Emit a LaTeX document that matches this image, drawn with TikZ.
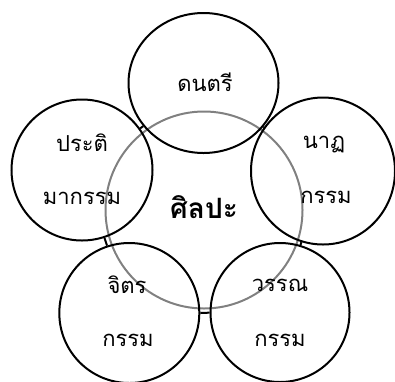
\documentclass[tikz,border=0pt]{standalone}
\usepackage{fontspec}
\newfontfamily\thaifont[Script=Thai]{Loma}
\usetikzlibrary{shapes.geometric}
\begin{document}
\begin{tikzpicture}[x=1pt,y=-1pt,
  outer/.style={draw=black,line width=2pt,ellipse,inner sep=0pt},
  link/.style={draw=black,line width=2pt},
  lbl/.style={font=\thaifont\fontsize{22}{22}\selectfont,inner sep=0pt},
  big/.style={font=\thaifont\bfseries\fontsize{28}{28}\selectfont,inner sep=0pt}]
\useasboundingbox (0,0) rectangle (395,381);
\draw[draw=gray,line width=2pt] (204,210) circle (98.5);
\node[outer,minimum width=150pt,minimum height=140pt] (t) at (203.5,83) {};
\node[outer,minimum width=141pt,minimum height=141pt] (l) at (82,170) {};
\node[outer,minimum width=144pt,minimum height=147pt] (r) at (323,171) {};
\node[outer,minimum width=140pt,minimum height=140pt] (bl) at (129.3,313) {};
\node[outer,minimum width=139pt,minimum height=139pt] (br) at (280,312.5) {};
\draw[link] (t) -- (l);
\draw[link] (t) -- (r);
\draw[link] (l) -- (bl);
\draw[link] (r) -- (br);
\draw[link] (bl) -- (br);
\node[big] (c) at (204,207) {ศิลปะ};
\node[lbl] (t1) at (205,82) {ดนตรี};
\node[lbl] (l1) at (82,143) {ประติ};
\node[lbl] (l2) at (82,198) {มากรรม};
\node[lbl] (r1) at (324,145) {นาฏ};
\node[lbl] (r2) at (326,197) {กรรม};
\node[lbl] (bl1) at (127,285) {จิตร};
\node[lbl] (bl2) at (128,340) {กรรม};
\node[lbl] (br1) at (280,285) {วรรณ};
\node[lbl] (br2) at (280,340) {กรรม};
\end{tikzpicture}
\end{document}
